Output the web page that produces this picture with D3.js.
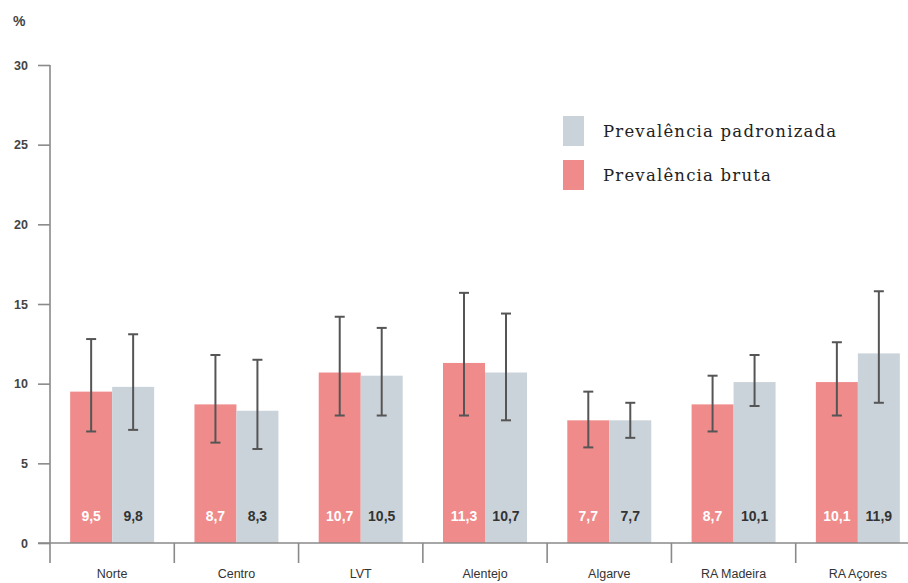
<!DOCTYPE html>
<html>
<head>
<meta charset="utf-8">
<script src="https://cdn.jsdelivr.net/npm/d3@7"></script>
<style>
  html, body { margin: 0; padding: 0; background: #fff; }
  svg { display: block; }
</style>
</head>
<body>
<svg id="chart" width="908" height="583"></svg>
<script>
const categories = ["Norte", "Centro", "LVT", "Alentejo", "Algarve", "RA Madeira", "RA Açores"];
const bruta = [9.5, 8.7, 10.7, 11.3, 7.7, 8.7, 10.1];
const brutaLow = [7.0, 6.3, 8.0, 8.0, 6.0, 7.0, 8.0];
const brutaHigh = [12.8, 11.8, 14.2, 15.7, 9.5, 10.5, 12.6];
const padronizada = [9.8, 8.3, 10.5, 10.7, 7.7, 10.1, 11.9];
const padLow = [7.1, 5.9, 8.0, 7.7, 6.6, 8.6, 8.8];
const padHigh = [13.1, 11.5, 13.5, 14.4, 8.8, 11.8, 15.8];
const yTicks = [0, 5, 10, 15, 20, 25, 30];
const seriesNames = ["Prevalência bruta", "Prevalência padronizada"];
const legendOrder = ["Prevalência padronizada", "Prevalência bruta"];

const colors = { "Prevalência bruta": "#ef8b8b", "Prevalência padronizada": "#cbd3da" };
const labelColors = { "Prevalência bruta": "#ffffff", "Prevalência padronizada": "#333333" };

const series = [
  { name: seriesNames[0], values: bruta, low: brutaLow, high: brutaHigh },
  { name: seriesNames[1], values: padronizada, low: padLow, high: padHigh }
];

const svg = d3.select("#chart");
const sans = "'Liberation Sans', Arial, sans-serif";

const y = d3.scaleLinear().domain([0, 30]).range([543, 65]);
const x = d3.scaleBand().domain(categories).range([50, 920]).paddingInner(0).paddingOuter(0);
const xs = d3.scaleBand().domain(seriesNames).range([0, x.bandwidth()]).paddingInner(0).paddingOuter(0.48);

const axisColor = "#8a8a8a";

// Bars
const groups = svg.append("g").selectAll("g")
  .data(categories).join("g")
  .attr("transform", d => `translate(${x(d)},0)`);

series.forEach(s => {
  groups.append("rect")
    .attr("x", xs(s.name))
    .attr("width", xs.bandwidth())
    .attr("y", (d, i) => y(s.values[i]))
    .attr("height", (d, i) => y(0) - y(s.values[i]))
    .attr("fill", colors[s.name]);
});

// Error bars
series.forEach(s => {
  const cx = xs(s.name) + xs.bandwidth() / 2;
  const g = groups.append("g").attr("stroke", "#555").attr("stroke-width", 2);
  g.append("line").attr("x1", cx).attr("x2", cx)
    .attr("y1", (d, i) => y(s.low[i])).attr("y2", (d, i) => y(s.high[i]));
  g.append("line").attr("x1", cx - 5).attr("x2", cx + 5)
    .attr("y1", (d, i) => y(s.high[i])).attr("y2", (d, i) => y(s.high[i]));
  g.append("line").attr("x1", cx - 5).attr("x2", cx + 5)
    .attr("y1", (d, i) => y(s.low[i])).attr("y2", (d, i) => y(s.low[i]));
});

// Value labels
series.forEach(s => {
  const cx = xs(s.name) + xs.bandwidth() / 2;
  groups.append("text")
    .attr("x", cx)
    .attr("y", 521)
    .attr("text-anchor", "middle")
    .attr("font-family", sans)
    .attr("font-size", 14)
    .attr("font-weight", "bold")
    .attr("fill", labelColors[s.name])
    .text((d, i) => d3.format(".1f")(s.values[i]).replace(".", ","));
});

// Y axis
const yAxis = d3.axisLeft(y).tickValues(yTicks).tickSize(12).tickSizeOuter(0).tickPadding(10);
const yg = svg.append("g").attr("transform", "translate(50,0)").call(yAxis);
yg.select(".domain").remove();
yg.selectAll(".tick line").attr("stroke", axisColor).attr("stroke-width", 1.6);
yg.selectAll(".tick text").attr("font-family", sans).attr("font-size", 12.5)
  .attr("font-weight", "bold").attr("fill", "#444");
svg.append("line").attr("x1", 50).attr("x2", 50).attr("y1", y(30)).attr("y2", y(0) + 20)
  .attr("stroke", axisColor).attr("stroke-width", 1.6);

// X axis line
svg.append("line").attr("x1", 38).attr("x2", 908).attr("y1", y(0)).attr("y2", y(0))
  .attr("stroke", axisColor).attr("stroke-width", 1.6);
// Separators
const seps = d3.range(1, categories.length + 1).map(i => x.range()[0] + i * x.step());
svg.append("g").selectAll("line").data(seps).join("line")
  .attr("x1", d => d).attr("x2", d => d)
  .attr("y1", y(0)).attr("y2", y(0) + 20)
  .attr("stroke", axisColor).attr("stroke-width", 1.6);

// Category labels
svg.append("g").selectAll("text").data(categories).join("text")
  .attr("x", d => x(d) + x.bandwidth() / 2)
  .attr("y", 578)
  .attr("text-anchor", "middle")
  .attr("font-family", sans)
  .attr("font-size", 12.5)
  .attr("fill", "#333")
  .text(d => d);

// % label
svg.append("text").attr("x", 13).attr("y", 26)
  .attr("font-family", sans).attr("font-size", 14).attr("font-weight", "bold")
  .attr("fill", "#444").text("%");

// Legend
const legend = svg.append("g").selectAll("g").data(legendOrder).join("g")
  .attr("transform", (d, i) => `translate(563,${116 + i * 44})`);
legend.append("rect").attr("width", 21).attr("height", 30).attr("fill", d => colors[d]);
legend.append("text").attr("x", 40).attr("y", 21)
  .attr("font-family", "'DejaVu Serif', 'Liberation Serif', serif")
  .attr("font-size", 16.5)
  .attr("letter-spacing", 1.2)
  .attr("fill", "#222")
  .text(d => d);
</script>
</body>
</html>
